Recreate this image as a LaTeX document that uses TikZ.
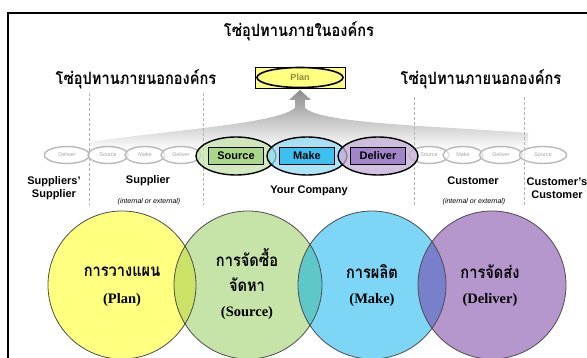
\documentclass[tikz,border=0pt]{standalone}
\usepackage{fontspec}
\setmainfont{Liberation Sans}
\newfontfamily\thaifont[Script=Thai,FakeStretch=0.86]{Loma}
\newfontfamily\serifbf{Liberation Serif}
\usetikzlibrary{shapes.geometric,positioning}

\definecolor{planyellow}{HTML}{FFFF80}
\definecolor{plantext}{HTML}{8C8C3C}
\definecolor{srcgreen}{HTML}{C6E3A8}
\definecolor{srcbox}{HTML}{A9D88A}
\definecolor{makecyan}{HTML}{7DD6F5}
\definecolor{makebox}{HTML}{3CC0F0}
\definecolor{delpurple}{HTML}{B597CE}
\definecolor{delbox}{HTML}{A284C8}
\definecolor{ovYG}{HTML}{CCE266}
\definecolor{ovGC}{HTML}{5EC8C8}
\definecolor{ovCP}{HTML}{7880CC}

\tikzset{
  smallell/.style={ellipse, draw=gray!55, line width=1.4pt, fill=white, fill opacity=0.6,
    text opacity=1, minimum height=17pt, inner sep=0pt, text=gray!70,
    font=\fontsize{5.5}{5.5}\selectfont},
  bigell/.style={ellipse, draw=black, line width=1.4pt, fill opacity=0.75,
    minimum width=80pt, minimum height=38pt, inner sep=0pt},
  stagebox/.style={draw=black, line width=0.8pt, minimum width=55pt, minimum height=17pt,
    inner sep=0pt, font=\bfseries\fontsize{11}{11}\selectfont},
  rolelabel/.style={font=\bfseries\fontsize{11}{13}\selectfont, align=center},
  rolenote/.style={font=\itshape\fontsize{7}{7}\selectfont},
  thaihead/.style={font=\thaifont\bfseries\fontsize{17}{17}\selectfont},
  bigcirc/.style={circle, line width=0.8pt, minimum size=148pt, inner sep=0pt},
  circthai/.style={font=\thaifont\bfseries\fontsize{17}{17}\selectfont},
  circeng/.style={font=\serifbf\bfseries\fontsize{14.5}{14.5}\selectfont},
  chainline/.style={gray!60, thin, dash pattern=on 3pt off 2pt}
}

\begin{document}
\begin{tikzpicture}[x=1pt,y=-1pt]
    \useasboundingbox (0,0) rectangle (587,358);

    % === FRAME ===
    \draw[line width=1.2pt] (8,358) -- (8,13) -- (587,13);

    % === TITLES ===
    \node[thaihead] (inside) at (299,31) {โซ่อุปทานภายในองค์กร};
    \node[thaihead] (outleft) at (136,79) {โซ่อุปทานภายนอกองค์กร};
    \node[thaihead] (outright) at (481,79) {โซ่อุปทานภายนอกองค์กร};

    % Grey fan up to Plan
    \shade[top color=gray!90, bottom color=white]
        (300,90) -- (311,100) -- (305,100) -- (305,108)
        .. controls (322,124) and (440,126) .. (528,133) -- (528,150)
        -- (90,150) -- (90,142)
        .. controls (170,130) and (276,124) .. (295,108)
        -- (295,100) -- (289,100) -- cycle;

    % Chain borders
    \foreach \x/\top in {89/93, 203/93, 414/97, 524/97} {
        \draw[chainline] (\x,\top) -- (\x,205);
    }

    % === OUTER CHAIN (grey) ===
    \foreach \name/\x/\w/\txt in {sd/67/45/Deliver, ss/108/40/Source, sm/145/40/Make,
        sl/181/40/Deliver, cs/429/40/Source, cm/463/40/Make, cd/501/43/Deliver,
        cc/543/47/Source} {
        \node[smallell, minimum width=\w pt] (\name) at (\x,155) {\txt};
    }

    % === YOUR COMPANY ===
    \node[bigell, fill=srcgreen] (srcell) at (236,156) {};
    \node[bigell, fill=makecyan!85] (makeell) at (307,156) {};
    \node[bigell, fill=delpurple!80] (delell) at (378,156) {};
    \node[stagebox, fill=srcbox] (srcbx) at (srcell.center) {Source};
    \node[stagebox, fill=makebox] (makebx) at (makeell.center) {Make};
    \node[stagebox, fill=delbox] (delbx) at (delell.center) {Deliver};

    % Plan
    \node[draw, line width=0.6pt, fill=planyellow, minimum width=90pt, minimum height=21pt,
        inner sep=0pt] (planbx) at (300,77.5) {};
    \node[ellipse, draw, line width=1.6pt, fill=planyellow, minimum width=86pt,
        minimum height=20pt, inner sep=0pt, text=plantext,
        font=\bfseries\fontsize{9}{9}\selectfont] (planell) at (planbx.center) {Plan};

    % Labels
    \node[rolelabel] (ss-lbl) at (54,188) {Suppliers'\\Supplier};
    \node[rolelabel] (sup-lbl) at (148,181) {Supplier};
    \node[rolenote] (sup-note) at (149,202) {(internal or external)};
    \node[rolelabel] (comp-lbl) at (309,191) {Your Company};
    \node[rolelabel] (cus-lbl) at (473,181) {Customer};
    \node[rolenote] (cus-note) at (474,202) {(internal or external)};
    \node[rolelabel] (cc-lbl) at (557,188) {Customer's\\Customer};

    % === CIRCLES ===
    \node[bigcirc, fill=planyellow] (plan) at (122,285) {};
    \node[bigcirc, fill=srcgreen] (source) at (248,285) {};
    \node[bigcirc, fill=makecyan] (make) at (372,285) {};
    \node[bigcirc, fill=delpurple] (deliver) at (492,285) {};
    \begin{scope}
        \clip (plan.center) circle (74pt);
        \fill[ovYG] (source.center) circle (74pt);
    \end{scope}
    \begin{scope}
        \clip (source.center) circle (74pt);
        \fill[ovGC] (make.center) circle (74pt);
    \end{scope}
    \begin{scope}
        \clip (make.center) circle (74pt);
        \fill[ovCP] (deliver.center) circle (74pt);
    \end{scope}
    \foreach \c in {plan, source, make, deliver} {
        \draw[black!70, line width=0.8pt] (\c.center) circle (74pt);
    }

    % Circle texts
    \node[circthai] (plan-th) at (122,272) {การวางแผน};
    \node[circeng] (plan-en) at (122,300) {(Plan)};
    \node[circthai] (src-th1) at (247,258) {การจัดซื้อ};
    \node[circthai] (src-th2) at (247,285) {จัดหา};
    \node[circeng] (src-en) at (247,313) {(Source)};
    \node[circthai] (make-th) at (372,272) {การผลิต};
    \node[circeng] (make-en) at (372,300) {(Make)};
    \node[circthai] (del-th) at (490,272) {การจัดส่ง};
    \node[circeng] (del-en) at (490,300) {(Deliver)};
\end{tikzpicture}
\end{document}
